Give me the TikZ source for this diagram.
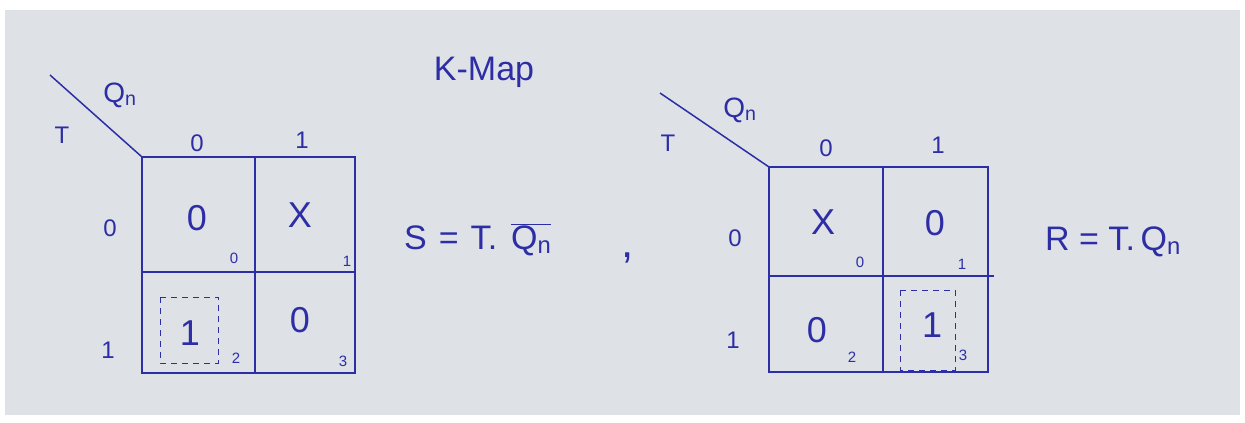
\documentclass[tikz,border=0pt]{standalone}
\usepackage{fontspec}
\setmainfont{Liberation Sans}
\definecolor{ink}{RGB}{45,45,165}
\definecolor{paper}{RGB}{222,226,230}
\begin{document}
\begin{tikzpicture}[x=1pt,y=-1pt,
  grid/.style={draw=ink,line width=1.8pt},
  lbl/.style={text=ink,font=\fontsize{24}{26}\selectfont,inner sep=0pt},
  qlbl/.style={text=ink,font=\fontsize{28}{30}\selectfont,inner sep=0pt},
  val/.style={text=ink,font=\fontsize{36}{38}\selectfont,inner sep=0pt},
  idx/.style={text=ink,font=\fontsize{15}{16}\selectfont,inner sep=0pt},
  eqn/.style={text=ink,font=\fontsize{34}{36}\selectfont,inner sep=0pt},
  grp/.style={draw=ink,line width=1pt,dashed,dash pattern=on 6pt off 5pt}]
\useasboundingbox (0,0) rectangle (1245,423);
\fill[white] (0,0) rectangle (1245,423);
\fill[paper] (5,10) rectangle (1240,415);
% title
\node[eqn] (title) at (484,72) {K-Map};
% ---------- map 1 ----------
\coordinate (a0) at (50,75);
\coordinate (a1) at (142,157);
\draw[grid,line width=1.5pt] (a0) -- (a1);
\draw[grid] (142,157) rectangle (355,373);
\draw[grid] (255,157) -- (255,373);
\draw[grid] (142,272) -- (355,272);
\node[qlbl] (aq) at (120,95) {Q\textsubscript{n}};
\node[lbl] (at) at (62,135) {T};
\node[lbl] (ac0) at (197,143) {0};
\node[lbl] (ac1) at (302,140) {1};
\node[lbl] (ar0) at (110,228) {0};
\node[lbl] (ar1) at (108,350) {1};
\node[val] (av0) at (197,218) {0};
\node[val] (av1) at (300,215) {X};
\node[val] (av2) at (190,333) {1};
\node[val] (av3) at (300,320) {0};
\draw[grp] (160,297) rectangle (218,363);
\node[idx] (ai0) at (234,258) {0};
\node[idx] (ai1) at (347,261) {1};
\node[idx] (ai2) at (236,358) {2};
\node[idx] (ai3) at (343,361) {3};
% equation S
\node[eqn,anchor=west] (seq) at (404,240) {S\hspace{12pt}=\hspace{12pt}T.\hspace{14pt}$\overline{\mbox{Q\textsubscript{n}}}$};
\node[eqn,font=\fontsize{44}{46}\selectfont] (comma) at (628,258) {,};
% ---------- map 2 ----------
\coordinate (b0) at (660,93);
\coordinate (b1) at (769,167);
\draw[grid,line width=1.5pt] (b0) -- (b1);
\draw[grid] (769,167) rectangle (988,372);
\draw[grid] (883,167) -- (883,372);
\draw[grid] (769,276) -- (994,276);
\node[qlbl] (bq) at (740,110) {Q\textsubscript{n}};
\node[lbl] (bt) at (668,143) {T};
\node[lbl] (bc0) at (826,148) {0};
\node[lbl] (bc1) at (938,145) {1};
\node[lbl] (br0) at (735,238) {0};
\node[lbl] (br1) at (733,340) {1};
\node[val] (bv0) at (823,222) {X};
\node[val] (bv1) at (935,223) {0};
\node[val] (bv2) at (817,330) {0};
\node[val] (bv3) at (932,325) {1};
\draw[grp] (900,290) rectangle (955,370);
\node[idx] (bi0) at (860,262) {0};
\node[idx] (bi1) at (962,264) {1};
\node[idx] (bi2) at (852,357) {2};
\node[idx] (bi3) at (963,355) {3};
% equation R
\node[eqn,anchor=west] (req) at (1045,242) {R = T.\,Q\textsubscript{n}};
\end{tikzpicture}
\end{document}
